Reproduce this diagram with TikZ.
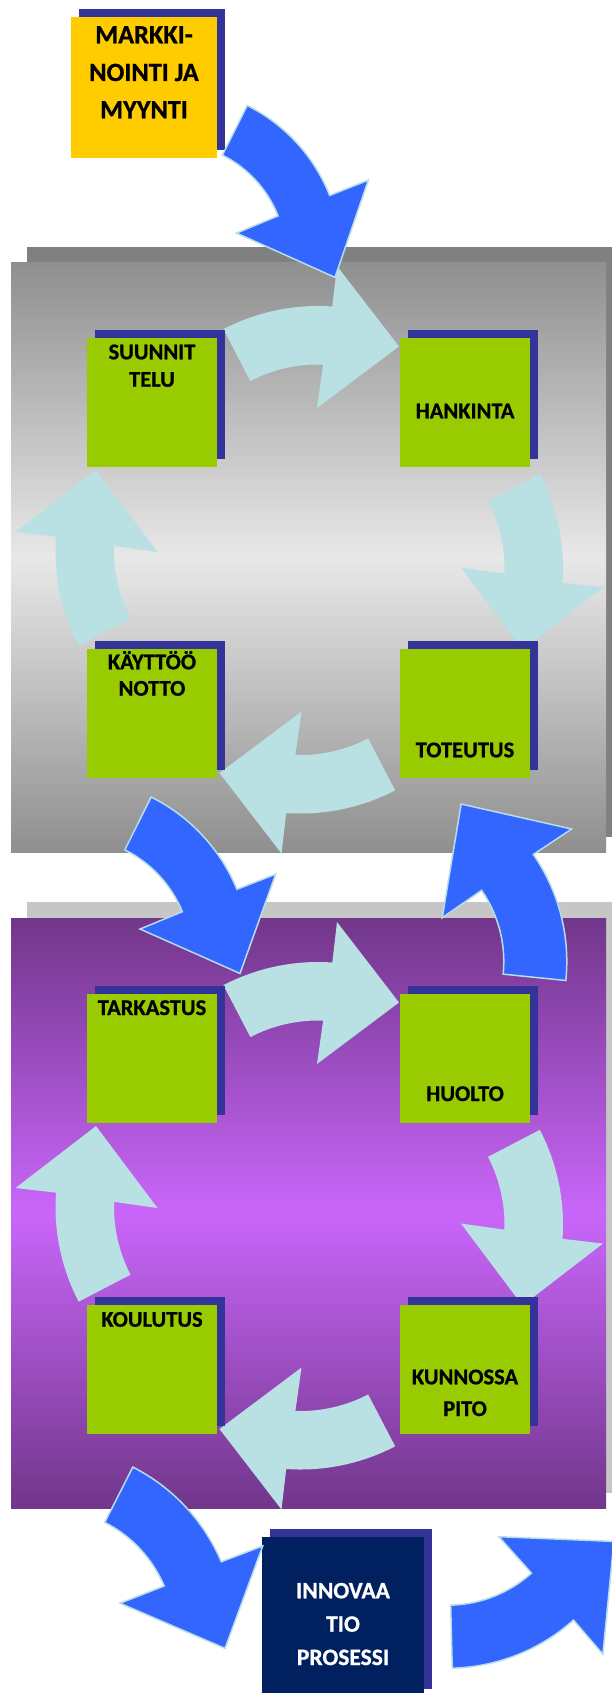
\documentclass[tikz,border=0pt]{standalone}
\usepackage{fontspec}
\setmainfont{Carlito}[BoldFeatures={FakeBold=0.8}]
\usetikzlibrary{shadows}

\definecolor{boxgreen}{HTML}{99CC00}
\definecolor{boxshadow}{HTML}{333399}
\definecolor{salesyellow}{HTML}{FFCC00}
\definecolor{innonavy}{HTML}{002060}
\definecolor{flowblue}{HTML}{3366FF}
\definecolor{cyclecyan}{HTML}{B9E0E3}
\definecolor{edgecyan}{HTML}{B7DEE8}
\definecolor{greyedge}{HTML}{8F8F8F}
\definecolor{greymid}{HTML}{E8E8E8}
\definecolor{greyshadow}{HTML}{808080}
\definecolor{purpleedge}{HTML}{71368A}
\definecolor{purplemid}{HTML}{C966FA}
\definecolor{purpleshadow}{HTML}{C6C6C6}

\tikzset{
  stepbox/.style={fill=boxgreen, minimum width=130pt, minimum height=129pt,
    inner sep=0pt, general shadow={fill=boxshadow, shadow xshift=8pt, shadow yshift=8pt}},
  boxtext/.style={font=\bfseries\fontsize{22.5}{27}\selectfont, anchor=base, inner sep=0pt},
  salestext/.style={font=\bfseries\fontsize{26.3}{30}\selectfont, anchor=base, inner sep=0pt},
  innotext/.style={font=\bfseries\fontsize{23.5}{28}\selectfont, anchor=base, inner sep=0pt, text=white},
  flowarrow/.style={fill=flowblue, draw=edgecyan, line width=1.5pt, line join=miter},
  cyclearrow/.style={fill=cyclecyan},
}

% one curved arrow of a four-step cycle; #1,#2 = cycle centre, #3 = rotation
\newcommand\cyclestep[3]{%
  \fill[cyclearrow, shift={(#1,#2)}, rotate=#3]
    (8.75,48.75) ++(117.5:205) arc[start angle=117.5, end angle=86, radius=205]
    -- (27.75,293.75) -- (89.75,213.25) -- (7.75,151.75)
    -- (13.86,195.16) arc[start angle=88, end angle=117.5, radius=146.5] -- cycle;
}

\begin{document}
\begin{tikzpicture}[x=1pt, y=1pt]
\useasboundingbox (0,0) rectangle (612,-1693);
\clip (0,0) rectangle (612,-1693);
\fill[white] (0,0) rectangle (612,-1693);

% ---- upper panel: planning to implementation ----
\fill[greyshadow] (27,-246.7) rectangle (622,-836.7);
\shade[top color=greyedge, bottom color=greyedge, middle color=greymid]
  (11,-262.7) rectangle (606,-852.3);
\cyclestep{309.25}{-559.75}{0}
\cyclestep{309.25}{-559.75}{-90}
\cyclestep{309.25}{-559.75}{180}
\cyclestep{309.25}{-559.75}{90}

% ---- lower panel: maintenance cycle ----
\fill[purpleshadow] (27,-902) rectangle (622,-1492.7);
\shade[top color=purpleedge, bottom color=purpleedge, middle color=purplemid]
  (11,-918) rectangle (606,-1508.7);
\cyclestep{309.25}{-1215.75}{0}
\cyclestep{309.25}{-1215.75}{-90}
\cyclestep{309.25}{-1215.75}{180}
\cyclestep{309.25}{-1215.75}{90}

% ---- boxes ----
\node[fill=salesyellow, minimum width=146pt, minimum height=141pt, inner sep=0pt,
  general shadow={fill=boxshadow, shadow xshift=8pt, shadow yshift=8pt}]
  (sales) at (144,-87.2) {};
\node[salestext] (sales1) at (144,-43.3) {MARKKI-};
\node[salestext] (sales2) at (144,-81) {NOINTI JA};
\node[salestext] (sales3) at (144,-118.3) {MYYNTI};

\node[stepbox] (plan) at (152,-402.5) {};
\node[stepbox] (buy) at (465,-402.5) {};
\node[stepbox] (launch) at (152,-713.5) {};
\node[stepbox] (build) at (465,-713.5) {};
\node[stepbox] (check) at (152,-1058.5) {};
\node[stepbox] (service) at (465,-1058.5) {};
\node[stepbox] (train) at (152,-1369.5) {};
\node[stepbox] (upkeep) at (465,-1369.5) {};

\node[boxtext] (plan1) at (152,-359.3) {SUUNNIT};
\node[boxtext] (plan2) at (152,-386.7) {TELU};
\node[boxtext] (buy1) at (465,-418.3) {HANKINTA};
\node[boxtext] (launch1) at (152,-669.3) {KÄYTTÖÖ};
\node[boxtext] (launch2) at (152,-695.7) {NOTTO};
\node[boxtext] (build1) at (465,-757.3) {TOTEUTUS};
\node[boxtext] (check1) at (152,-1015) {TARKASTUS};
\node[boxtext] (service1) at (465,-1101) {HUOLTO};
\node[boxtext] (train1) at (152,-1326.7) {KOULUTUS};
\node[boxtext] (upkeep1) at (465,-1384.3) {KUNNOSSA};
\node[boxtext] (upkeep2) at (465,-1416) {PITO};

\node[fill=innonavy, minimum width=162pt, minimum height=160pt, inner sep=0pt,
  general shadow={fill=boxshadow, shadow xshift=8pt, shadow yshift=8pt}]
  (inno) at (343,-1617) {};
\node[innotext] (inno1) at (343,-1598.3) {INNOVAA};
\node[innotext] (inno2) at (343,-1631.7) {TIO};
\node[innotext] (inno3) at (343,-1665) {PROSESSI};

% ---- flow arrows between the stages ----
\filldraw[flowarrow, shift={(170.7,-258.4)}]
  (63.4:171) arc[start angle=63.4, end angle=21.6, radius=171]
  -- (21.6:212.6) -- (-6.6:165.4) -- (21:70.6)
  -- (21.6:115.5) arc[start angle=21.6, end angle=63.4, radius=115.5] -- cycle;

\filldraw[flowarrow, shift={(71.3,-957.2)}]
  (63.5:179) arc[start angle=63.5, end angle=22.3, radius=179]
  -- (22.1:220.6) -- (-5.5:169.5) -- (22.3:74.3)
  -- (22.3:120) arc[start angle=22.3, end angle=63.5, radius=120] -- cycle;

\filldraw[flowarrow, shift={(378.8,-961.5)}]
  (-5.8:188) arc[start angle=-5.8, end angle=34.7, radius=188]
  -- (34.5:234) -- (62.4:177.7) -- (34.6:77.1)
  -- (34.7:125) arc[start angle=34.7, end angle=-5.8, radius=125] -- cycle;

\filldraw[flowarrow, shift={(47.3,-1635.6)}]
  (63.1:189) arc[start angle=63.1, end angle=23, radius=189]
  -- (22.6:233.4) -- (-4.1:178.2) -- (24:79.6)
  -- (23:127) arc[start angle=23, end angle=63.1, radius=127] -- cycle;

\filldraw[flowarrow, shift={(447.5,-1479.2)}]
  (-88.55:189) arc[start angle=-88.55, end angle=-48.2, radius=189]
  -- (-48.4:234) -- (-20.5:177.7) -- (-48.2:77.1)
  -- (-48.2:126) arc[start angle=-48.2, end angle=-88.55, radius=126] -- cycle;
\end{tikzpicture}
\end{document}
